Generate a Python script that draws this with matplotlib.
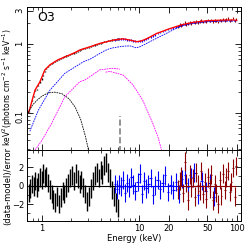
import matplotlib
matplotlib.use("Agg")
import matplotlib.pyplot as plt
from matplotlib.ticker import FixedLocator, NullFormatter, FixedFormatter

# ---- data ----
# black spectrum (soft band)
e_blk = [0.73, 0.76, 0.79, 0.82, 0.85, 0.88, 0.91, 0.95, 0.99, 1.03, 1.07, 1.11, 1.16, 1.21, 1.26,
         1.31, 1.37, 1.43, 1.49, 1.56, 1.63, 1.70, 1.78, 1.86, 1.94, 2.03, 2.12, 2.22, 2.32, 2.43,
         2.54, 2.66, 2.78, 2.91, 3.04, 3.18, 3.33, 3.48, 3.64, 3.81, 3.99, 4.17, 4.36, 4.56, 4.77,
         4.99, 5.22, 5.46, 5.71, 5.97]
f_blk = [0.105, 0.125, 0.15, 0.175, 0.21, 0.22, 0.25, 0.28, 0.31, 0.35, 0.40, 0.44, 0.47, 0.50, 0.52,
         0.54, 0.56, 0.58, 0.59, 0.61, 0.63, 0.65, 0.67, 0.69, 0.71, 0.72, 0.74, 0.76, 0.78, 0.81,
         0.83, 0.85, 0.87, 0.89, 0.90, 0.92, 0.94, 0.97, 0.99, 1.01, 1.03, 1.06, 1.08, 1.10, 1.12,
         1.13, 1.14, 1.16, 1.17, 1.18]
r_blk = [-0.8, -0.3, 0.2, -0.1, 0.5, -0.2, 0.4, 0.9, 0.6, 1.3, 0.8, 1.0, 0.3, -0.4, -0.9,
         -1.5, -1.8, -1.2, -2.0, -1.3, -0.6, -0.9, -0.2, 0.3, 0.8, 1.1, 0.5, 1.3, 0.7, 0.2,
         0.6, -0.2, -0.9, -1.7, -1.2, -0.3, 0.5, 1.1, 1.4, 0.8, 1.7, 1.2, 2.2, 2.5, 1.4,
         0.8, -0.5, -1.2, -1.8, -2.4]

# blue spectrum
e_blu = [5.6, 5.9, 6.2, 6.5, 6.8, 7.1, 7.5, 7.9, 8.3, 8.7, 9.1, 9.6, 10.1, 10.6, 11.2, 11.8, 12.4,
         13.1, 13.8, 14.6, 15.4, 16.3, 17.3, 18.4, 19.6, 20.9, 22.3, 23.8, 25.5, 27.3, 29.3, 31.5,
         34.0, 36.8, 40.0, 43.6, 47.8, 52.6, 58.0]
f_blu = [1.15, 1.17, 1.18, 1.19, 1.18, 1.17, 1.15, 1.14, 1.13, 1.11, 1.10, 1.09, 1.10, 1.12, 1.15,
         1.18, 1.22, 1.27, 1.31, 1.36, 1.42, 1.47, 1.52, 1.57, 1.62, 1.68, 1.73, 1.79, 1.85, 1.90,
         1.95, 1.99, 2.03, 2.07, 2.10, 2.13, 2.15, 2.17, 2.19]
r_blu = [0.2, -0.4, 0.1, -0.1, 0.6, -0.8, 0.3, -0.2, 0.9, 0.1, -0.6, 0.4, 1.3, -0.9, 0.5, -0.3,
         0.2, 0.8, -1.0, 0.0, 0.6, -0.4, 0.3, 1.1, -0.7, 0.1, -0.5, 0.4, -0.9, 0.7, 1.2, -0.2,
         0.9, 1.4, -1.0, 0.5, -0.6, 0.3, -1.2]

# dark red spectrum (hard band)
e_red = [25.0, 26.0, 27.0, 28.1, 29.2, 30.4, 31.6, 32.9, 34.2, 35.6, 37.0, 38.5, 40.0, 41.6, 43.3,
         45.0, 46.8, 48.7, 50.6, 52.7, 54.8, 57.0, 59.3, 61.7, 64.2, 66.8, 69.5, 72.3, 75.2, 78.2,
         81.4, 84.7, 88.1, 91.6, 95.3, 99.0]
f_red = [1.80, 1.92, 1.86, 1.95, 2.05, 1.93, 1.98, 2.08, 1.99, 2.10, 2.02, 2.13, 2.06, 2.12, 2.20,
         2.08, 2.16, 2.12, 2.22, 2.14, 2.24, 2.13, 2.21, 2.17, 2.10, 2.25, 2.16, 2.28, 2.19, 2.26,
         2.35, 2.18, 2.24, 2.38, 2.15, 2.32]
r_red = [-0.4, 0.5, 1.0, -0.8, 2.6, 0.3, -1.6, 1.2, -0.2, 0.8, -1.2, 1.4, 0.1, -0.6, 1.6,
         -0.9, 0.4, -1.4, 0.9, -0.3, 1.2, -1.6, 0.2, -0.8, -2.0, 0.6, -1.1, 1.3, -0.5, 0.9,
         1.6, -0.7, 0.4, 1.9, -1.2, 2.1]

# total model (red solid)
e_tot = [0.72, 0.75, 0.80, 0.85, 0.95, 1.07, 1.21, 1.46, 1.72, 2.18, 2.45, 3.1, 3.93, 5.4, 6.8,
         8.0, 9.4, 10.5, 12, 15, 20, 26.6, 35, 49, 70, 93, 100]
f_tot = [0.10, 0.114, 0.16, 0.215, 0.28, 0.42, 0.50, 0.59, 0.65, 0.75, 0.82, 0.91, 1.02, 1.14, 1.19,
         1.14, 1.08, 1.11, 1.20, 1.42, 1.65, 1.88, 2.05, 2.17, 2.22, 2.23, 2.20]

# model components
e_cmp1 = [0.75, 0.92, 1.21, 1.72, 2.65, 3.1, 4.4, 5.0, 5.6, 6.9, 8.0, 9.3, 10.3, 12.8, 17.5,
          26.6, 35, 49, 70, 100]
f_cmp1 = [0.054, 0.11, 0.215, 0.376, 0.55, 0.60, 0.80, 0.86, 0.89, 0.93, 0.94, 0.88, 0.92, 1.08, 1.35,
          1.82, 1.98, 2.10, 2.15, 2.15]
e_cmp2 = [0.72, 0.80, 0.90, 1.00, 1.15, 1.35, 1.60, 1.90, 2.20, 2.50, 2.80, 3.0]
f_cmp2 = [0.10, 0.13, 0.155, 0.175, 0.195, 0.20, 0.19, 0.16, 0.12, 0.08, 0.045, 0.029]
e_cmp3a = [0.85, 1.0, 1.26, 1.72, 2.45, 2.76, 3.9, 5.0, 5.8, 6.3]
f_cmp3a = [0.029, 0.04, 0.071, 0.172, 0.284, 0.30, 0.42, 0.44, 0.44, 0.43]
e_cmp3b = [4.5, 5.0, 6.8, 8.5, 10.8, 13.7, 15.5, 16.9]
f_cmp3b = [0.39, 0.40, 0.355, 0.26, 0.154, 0.071, 0.045, 0.029]
e_line = 6.4
f_line = 0.089

plt.rcParams['font.family'] = 'DejaVu Sans'
fig = plt.figure(figsize=(2.49, 2.49), dpi=100)
ax1 = fig.add_axes([0.108, 0.398, 0.859, 0.574])
ax2 = fig.add_axes([0.108, 0.112, 0.859, 0.285], sharex=ax1)

# top panel
ax1.errorbar(e_blk, f_blk, yerr=[0.02 * f for f in f_blk], fmt='none', ecolor='black', lw=1.0)
ax1.errorbar(e_blu, f_blu, yerr=[0.03 * f for f in f_blu], fmt='none', ecolor='blue', lw=0.8)
ax1.errorbar(e_red, f_red, yerr=[0.04 * f for f in f_red], fmt='none', ecolor='#8b0000', lw=0.8)
ax1.plot(e_tot, f_tot, color='red', lw=1.0)
ax1.plot(e_cmp1, f_cmp1, color='blue', ls='--', lw=0.6, dashes=(2, 1))
ax1.plot(e_cmp2, f_cmp2, color='black', ls='--', lw=0.6, dashes=(2, 1))
ax1.plot(e_cmp3a, f_cmp3a, color='magenta', ls='--', lw=0.6, dashes=(2, 1))
ax1.plot(e_cmp3b, f_cmp3b, color='magenta', ls='--', lw=0.6, dashes=(2, 1))
ax1.vlines(e_line, 0.02, f_line, colors='gray', linestyles='--', lw=1.2)

ax1.set_xscale('log')
ax1.set_yscale('log')
ax1.set_xlim(0.70, 110)
ax1.set_ylim(0.029, 3.45)
ax1.yaxis.set_major_locator(FixedLocator([0.1, 1, 3]))
ax1.yaxis.set_major_formatter(FixedFormatter(['0.1', '1', '3']))
ax1.yaxis.set_minor_formatter(NullFormatter())
ax1.tick_params(axis='y', labelrotation=90)
ax1.text(0.05, 0.90, 'O3', transform=ax1.transAxes, fontsize=9)
ax1.set_ylabel(r'keV$^2$(photons cm$^{-2}$ s$^{-1}$ keV$^{-1}$)', fontsize=5.5)
ax1.yaxis.set_label_coords(-0.055, 0.44)
plt.setp(ax1.get_xticklabels(), visible=False)

# bottom panel
ax2.errorbar(e_blk, r_blk, yerr=1, fmt='none', ecolor='black', lw=1.0)
ax2.errorbar(e_blu, r_blu, yerr=1, xerr=[0.03 * e for e in e_blu], fmt='none', ecolor='blue', lw=0.8)
ax2.errorbar(e_red, r_red, yerr=1, xerr=[0.02 * e for e in e_red], fmt='none', ecolor='#8b0000', lw=0.8)
ax2.hlines(0, e_blk[0], e_blk[-1], colors='black', lw=0.8)
ax2.hlines(0, e_blu[0], e_blu[-1], colors='blue', lw=0.8)
ax2.hlines(0, e_red[0], e_red[-1], colors='#8b0000', lw=0.8)
ax2.set_ylim(-3.84, 3.84)
ax2.yaxis.set_major_locator(FixedLocator([-2, 0, 2]))
ax2.yaxis.set_minor_locator(FixedLocator([-3, -1, 1, 3]))
ax2.xaxis.set_major_locator(FixedLocator([1, 10, 20, 50, 100]))
ax2.xaxis.set_major_formatter(FixedFormatter(['1', '10', '20', '50', '100']))
ax2.xaxis.set_minor_formatter(NullFormatter())
ax2.set_xlabel('Energy (keV)', fontsize=6, labelpad=1)
ax2.set_ylabel('(data-model)/error', fontsize=6)
ax2.yaxis.set_label_coords(-0.07, 0.5)

for ax in (ax1, ax2):
    ax.tick_params(which='both', direction='in', top=True, right=True, labelsize=6, pad=2)
    ax.tick_params(which='major', length=4, width=0.6)
    ax.tick_params(which='minor', length=2, width=0.5)
    for s in ax.spines.values():
        s.set_linewidth(0.7)

fig.savefig('out.png', dpi=100)
